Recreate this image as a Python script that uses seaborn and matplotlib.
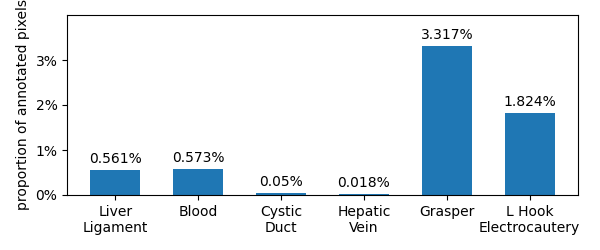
import matplotlib
matplotlib.use("Agg")
import matplotlib.pyplot as plt
import matplotlib.ticker as mticker
import seaborn as sns
import pandas as pd

# classes and their share of annotated pixels (in %)
classes = ["Liver\nLigament", "Blood", "Cystic\nDuct", "Hepatic\nVein", "Grasper", "L Hook\nElectrocautery"]
percent = [0.561, 0.573, 0.05, 0.018, 3.317, 1.824]
bar_labels = ["0.561%", "0.573%", "0.05%", "0.018%", "3.317%", "1.824%"]

df = pd.DataFrame({"cls": classes, "prop": [p / 100 for p in percent]})

fig, ax = plt.subplots(figsize=(6, 2.5), dpi=100)
sns.barplot(data=df, x="cls", y="prop", color="#1f77b4", saturation=1, width=0.6, ax=ax)
ax.bar_label(ax.containers[0], labels=bar_labels, padding=3)

ax.set_xlim(-0.58, 5.58)
ax.set_ylim(0, 0.04)
ax.set_yticks([0, 0.01, 0.02, 0.03])
ax.yaxis.set_major_formatter(mticker.PercentFormatter(1.0, decimals=0))
ax.set_xlabel("")
ax.set_ylabel("proportion of annotated pixels")

fig.subplots_adjust(left=0.112, right=0.963, top=0.94, bottom=0.22)
fig.savefig("out.png")
